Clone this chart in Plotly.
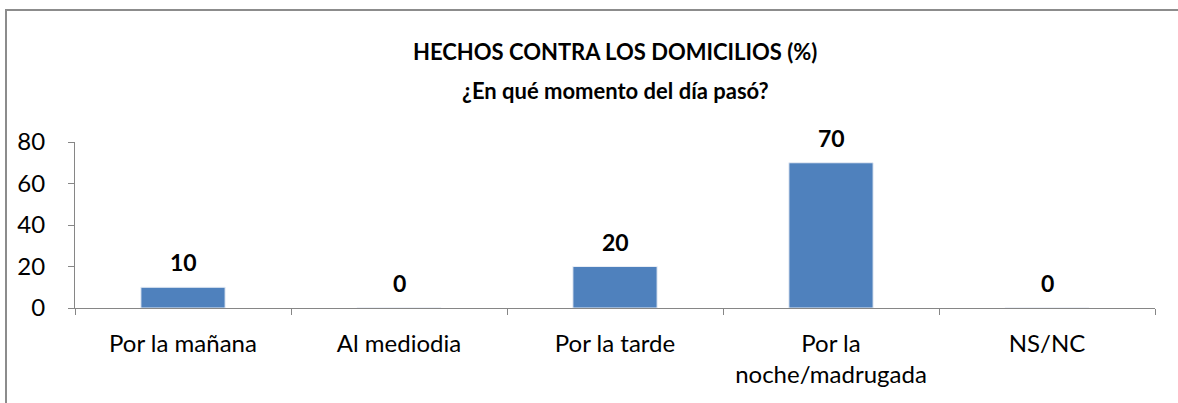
import plotly.graph_objects as go

categories = ["Por la mañana", "Al mediodia", "Por la tarde", "Por la<br>noche/madrugada", "NS/NC"]
values = [10, 0, 20, 70, 0]
y_ticks = [0, 20, 40, 60, 80]

W, H = 1178, 403
L, R, T, B = 75, 23, 142, 95
pw, ph = W - L - R, H - T - B

FONT = "Lato"
AX = "#868686"

fig = go.Figure()
fig.add_trace(go.Bar(
    x=categories, y=values, width=0.39,
    marker=dict(color="#4F81BD", line=dict(color="#E8EDF5", width=1)),
    hoverinfo="skip",
))

for c, v in zip(categories, values):
    fig.add_annotation(x=c, y=v, text=f"<b>{v}</b>", showarrow=False,
                       yanchor="middle", yshift=25,
                       font=dict(family=FONT, size=23, color="black"))

fig.add_annotation(xref="paper", yref="paper", x=0.5, y=(T - 52) / ph + 1,
                   text="<b>HECHOS CONTRA LOS DOMICILIOS (%)</b>", showarrow=False,
                   xanchor="center", yanchor="middle",
                   font=dict(family=FONT, size=22, color="black"))
fig.add_annotation(xref="paper", yref="paper", x=0.5, y=(T - 90) / ph + 1,
                   text="<b>¿En qué momento del día pasó?</b>", showarrow=False,
                   xanchor="center", yanchor="middle",
                   font=dict(family=FONT, size=22, color="black"))

# outer chart frame
fig.add_shape(type="rect", xref="paper", yref="paper",
              x0=(6 - L) / pw, x1=(W + 20 - L) / pw,
              y0=-(H + 20 - (T + ph)) / ph, y1=(T + ph - 10) / ph,
              line=dict(color="#8C8C8C", width=2), layer="below")

fig.update_layout(
    width=W, height=H,
    margin=dict(l=L, r=R, t=T, b=B, pad=0),
    paper_bgcolor="white", plot_bgcolor="white",
    showlegend=False,
    bargap=0.61,
    font=dict(family=FONT, size=24, color="black"),
)
fig.update_xaxes(
    showline=True, linecolor=AX, linewidth=1,
    ticks="outside", tickson="boundaries", ticklen=6, tickcolor=AX,
    showgrid=False, ticklabelstandoff=14,
    tickfont=dict(family=FONT, size=24, color="black"),
)
fig.update_yaxes(
    range=[0, 80], tickvals=y_ticks,
    showline=True, linecolor=AX, linewidth=1,
    ticks="outside", ticklen=6, tickcolor=AX,
    showgrid=False, zeroline=False, ticklabelstandoff=18,
    tickfont=dict(family=FONT, size=24, color="black"),
)

fig.write_html("out.html", config={"displayModeBar": False},
               post_script="document.body.style.margin='0px';document.body.style.padding='0px';")
